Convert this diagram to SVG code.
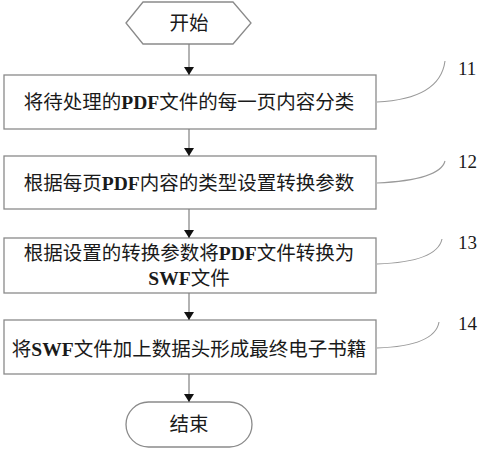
<svg xmlns="http://www.w3.org/2000/svg" width="483" height="450" viewBox="0 0 483 450">
<defs>
<style>
.box{fill:#fff;stroke:#8a8a8a;stroke-width:1.3}
.t{font-family:"Liberation Serif","Noto Sans CJK SC",serif;font-size:19.5px;fill:#1a1a1a;text-anchor:middle}
.b{font-weight:bold}
.lbl{font-family:"Liberation Serif",serif;font-size:19px;fill:#1a1a1a}
.ln{fill:none;stroke:#808080;stroke-width:1.2}
.cv{fill:none;stroke:#9a9a9a;stroke-width:1.1}
</style>
<marker id="ah" markerWidth="10" markerHeight="10" refX="8" refY="5" orient="auto" markerUnits="userSpaceOnUse">
<path d="M0,0 L8,5 L0,10 Z" fill="#111"/>
</marker>
</defs>
<rect width="483" height="450" fill="#fff"/>
<g id="start">
<polygon class="box" points="126,23 143,2 233,2 251,23 233,44 143,44"/>
<text class="t" x="189" y="30">开始</text>
</g>
<g id="step11">
<rect class="box" x="4" y="75" width="372" height="54"/>
<text class="t" x="189" y="109">将待处理的<tspan class="b">PDF</tspan>文件的每一页内容分类</text>
</g>
<g id="step12">
<rect class="box" x="4" y="156" width="372" height="53"/>
<text class="t" x="189" y="190">根据每页<tspan class="b">PDF</tspan>内容的类型设置转换参数</text>
</g>
<g id="step13">
<rect class="box" x="4" y="238" width="372" height="55"/>
<text class="t" x="189" y="260">根据设置的转换参数将<tspan class="b">PDF</tspan>文件转换为</text>
<text class="t" x="189" y="285"><tspan class="b">SWF</tspan>文件</text>
</g>
<g id="step14">
<rect class="box" x="4" y="320" width="372" height="54"/>
<text class="t" x="189" y="356">将<tspan class="b">SWF</tspan>文件加上数据头形成最终电子书籍</text>
</g>
<g id="end">
<rect class="box" x="126" y="402" width="126" height="45" rx="22.5" ry="22.5"/>
<text class="t" x="189" y="431">结束</text>
</g>
<g id="labels">
<text class="lbl" x="458" y="75">11</text>
<text class="lbl" x="458" y="168">12</text>
<text class="lbl" x="458" y="249">13</text>
<text class="lbl" x="458" y="330">14</text>
</g>
<g id="connectors">
<line class="ln" x1="189" y1="44" x2="189" y2="75" marker-end="url(#ah)"/>
<line class="ln" x1="189" y1="129" x2="189" y2="156" marker-end="url(#ah)"/>
<line class="ln" x1="189" y1="209" x2="189" y2="238" marker-end="url(#ah)"/>
<line class="ln" x1="189" y1="293" x2="189" y2="320" marker-end="url(#ah)"/>
<line class="ln" x1="189" y1="374" x2="189" y2="402" marker-end="url(#ah)"/>
<path class="cv" d="M377,102 Q440,99 445,61"/>
<path class="cv" d="M377,183 Q440,180 445,161"/>
<path class="cv" d="M377,264 Q437,262 442,239"/>
<path class="cv" d="M377,348 Q435,346 439,322"/>
</g>
</svg>
